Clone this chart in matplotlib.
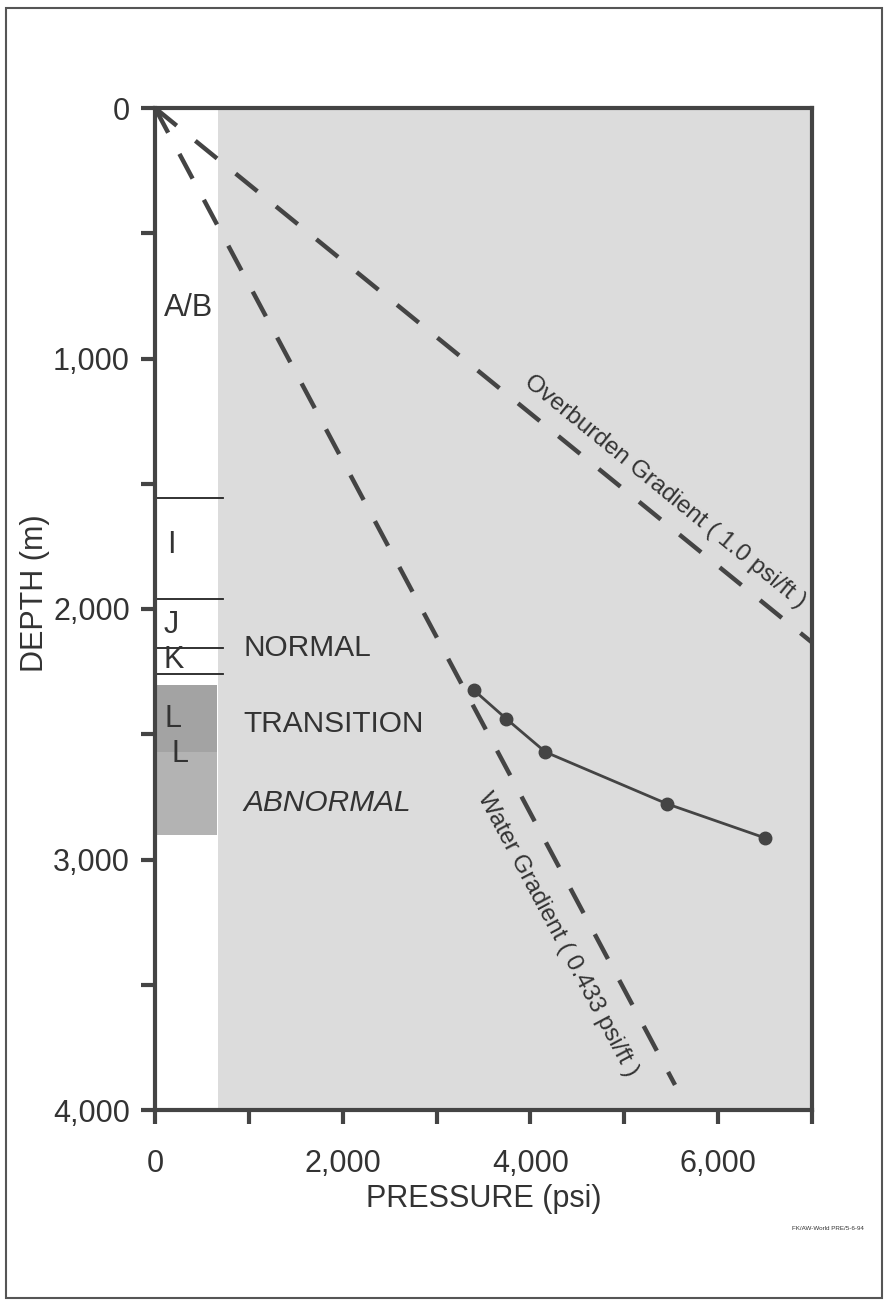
import numpy as np
import matplotlib
matplotlib.use('Agg')
import matplotlib.pyplot as plt
from matplotlib.patches import Rectangle

plt.rcParams['font.family'] = ['Liberation Sans', 'DejaVu Sans']

# gradients, psi per metre
overburden_grad = 1.0 * 3.281
water_grad = 0.433 * 3.281

# extent of the dashed gradient lines (m)
overburden_depth = [0, 2133]
water_depth = [0, 3900]

# measured formation pressure
meas_pressure = [3394, 3745, 4160, 5457, 6500]
meas_depth = [2323, 2439, 2571, 2778, 2914]

# strata column
strata_names = ['A/B', 'I', 'J', 'K', 'L', 'L']
strata_label_depth = [800, 1745, 2065, 2205, 2440, 2580]
strata_tops = [1557, 1960, 2156, 2259]
transition_zone = [2303, 2571]
abnormal_zone = [2571, 2902]

zone_names = ['NORMAL', 'TRANSITION', 'ABNORMAL']
zone_label_depth = [2156, 2459, 2774]

x_ticks = [0, 1000, 2000, 3000, 4000, 5000, 6000, 7000]
x_ticklabels = ['0', '', '2,000', '', '4,000', '', '6,000', '']
y_ticks = [0, 500, 1000, 1500, 2000, 2500, 3000, 3500, 4000]
y_ticklabels = ['0', '', '1,000', '', '2,000', '', '3,000', '', '4,000']

dark = '#444444'
txt = '#333333'

fig = plt.figure(figsize=(8.87, 13.04), dpi=100)
ax = fig.add_axes([155 / 887, 1 - 1110 / 1304, 657 / 887, 1002 / 1304])
ax.set_xlim(0, 7000)
ax.set_ylim(4000, 0)

# background: white strata strip, grey chart area
ax.axvspan(670, 7000, color='#dcdcdc', zorder=0, lw=0)

# strata column
for d in strata_tops:
    ax.plot([0, 720], [d, d], color='#222222', lw=1.3, zorder=2)
ax.add_patch(Rectangle((0, transition_zone[0]), 660, transition_zone[1] - transition_zone[0],
                       color='#a3a3a3', lw=0, zorder=1))
ax.add_patch(Rectangle((0, abnormal_zone[0]), 660, abnormal_zone[1] - abnormal_zone[0],
                       color='#b3b3b3', lw=0, zorder=1))
x_letter = [100, 130, 95, 95, 105, 180]
for name, d, xl in zip(strata_names, strata_label_depth, x_letter):
    ax.text(xl, d, name, fontsize=22, color=txt, ha='left', va='center', zorder=3)

for name, d in zip(zone_names, zone_label_depth):
    ax.text(940, d, name, fontsize=21.5, color=txt, ha='left', va='center',
            style='italic' if name == 'ABNORMAL' else 'normal', zorder=3)

# gradient lines
dash = (0, (6.3, 5.4))
ob_p = [d * overburden_grad for d in overburden_depth]
wt_p = [d * water_grad for d in water_depth]
ax.plot(ob_p, overburden_depth, color=dark, lw=3.2, linestyle=dash, zorder=3)
ax.plot(wt_p, water_depth, color=dark, lw=3.2, linestyle=dash, zorder=3)

# measured pressures
ax.plot(meas_pressure, meas_depth, color=dark, lw=2, marker='o', ms=9, zorder=4)


def angle_of(p, d):
    a = ax.transData.transform((p[0], d[0]))
    b = ax.transData.transform((p[1], d[1]))
    return np.degrees(np.arctan2(b[1] - a[1], b[0] - a[0]))


ax.text(5430, 1530, 'Overburden Gradient ( 1.0 psi/ft )', fontsize=17.5, color=txt,
        rotation=angle_of(ob_p, overburden_depth), rotation_mode='anchor',
        ha='center', va='center', zorder=3)
ax.text(4290, 3300, 'Water Gradient ( 0.433 psi/ft )', fontsize=17.5, color=txt,
        rotation=angle_of(wt_p, water_depth), rotation_mode='anchor',
        ha='center', va='center', zorder=3)

# axes styling
for s in ax.spines.values():
    s.set_linewidth(3)
    s.set_color(dark)
ax.set_xticks(x_ticks)
ax.set_xticklabels(x_ticklabels)
ax.set_yticks(y_ticks)
ax.set_yticklabels(y_ticklabels)
ax.tick_params(axis='both', colors=dark, width=3, length=10, labelsize=22,
               labelcolor=txt)
ax.tick_params(axis='x', pad=18)
ax.tick_params(axis='y', pad=8)
ax.set_xlabel('PRESSURE (psi)', fontsize=22, color=txt, labelpad=4)
ax.set_ylabel('DEPTH (m)', fontsize=22, color=txt)
ax.yaxis.set_label_coords(-0.16, 0.516)

# page frame and footer
fig.add_artist(Rectangle((6 / 887, 1 - 1298 / 1304), 876 / 887, 1290 / 1304,
                         transform=fig.transFigure, fill=False, lw=1.5, ec='#555555'))
fig.text(828 / 887, 1 - 1229 / 1304, 'FK/AW-World PRE/5-6-94', fontsize=4.5,
         color=txt, ha='center', va='center')

fig.savefig('out.png', dpi=100)
